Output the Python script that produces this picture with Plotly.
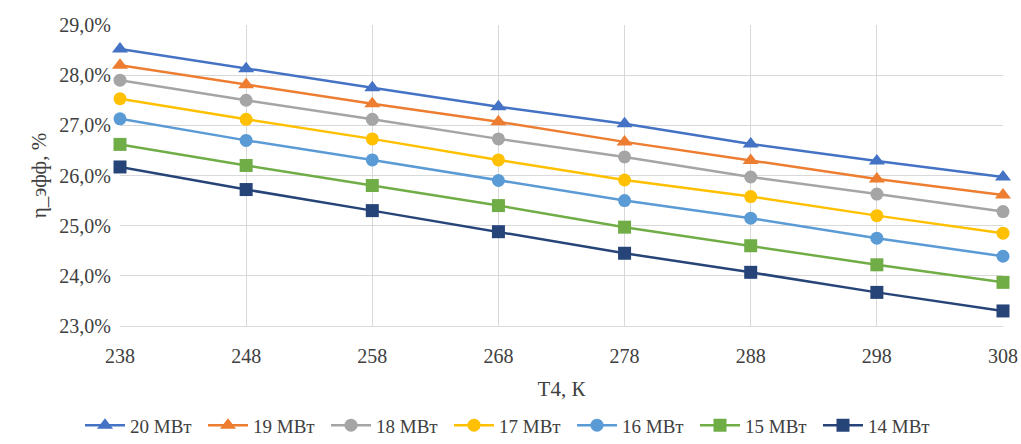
import plotly.graph_objects as go

# Temperature T4, K
t4 = [238, 248, 258, 268, 278, 288, 298, 308]

# Effective efficiency, %, per power level
eff_20 = [28.52, 28.13, 27.75, 27.37, 27.03, 26.63, 26.29, 25.97]
eff_19 = [28.20, 27.81, 27.43, 27.07, 26.67, 26.30, 25.93, 25.61]
eff_18 = [27.90, 27.50, 27.12, 26.73, 26.37, 25.97, 25.63, 25.28]
eff_17 = [27.53, 27.12, 26.73, 26.31, 25.91, 25.58, 25.20, 24.85]
eff_16 = [27.13, 26.70, 26.31, 25.90, 25.50, 25.15, 24.75, 24.39]
eff_15 = [26.62, 26.20, 25.80, 25.40, 24.97, 24.60, 24.22, 23.87]
eff_14 = [26.17, 25.72, 25.30, 24.88, 24.45, 24.07, 23.67, 23.30]

series_names = ["20 МВт", "19 МВт", "18 МВт", "17 МВт", "16 МВт", "15 МВт", "14 МВт"]
series_values = [eff_20, eff_19, eff_18, eff_17, eff_16, eff_15, eff_14]
colors = ["#4472C4", "#ED7D31", "#A5A5A5", "#FFC000", "#5B9BD5", "#70AD47", "#264478"]
symbols = ["triangle-up", "triangle-up", "circle", "circle", "circle", "square", "square"]
sizes = [14, 14, 13, 13, 13, 13, 13]

y_ticks = [23, 24, 25, 26, 27, 28, 29]
y_tick_text = ["23,0%", "24,0%", "25,0%", "26,0%", "27,0%", "28,0%", "29,0%"]

fig = go.Figure()
for name, vals, col, sym, sz in zip(series_names, series_values, colors, symbols, sizes):
    fig.add_trace(go.Scatter(
        x=t4, y=vals, name=name, mode="lines+markers",
        line=dict(color=col, width=2.5),
        marker=dict(symbol=sym, size=sz, color=col),
        cliponaxis=False,
    ))

font_family = "Liberation Serif"
text_color = "#404040"

fig.update_layout(
    width=1021, height=444,
    margin=dict(l=120, r=18, t=25, b=118, autoexpand=False),
    paper_bgcolor="white", plot_bgcolor="white",
    font=dict(family=font_family, size=20, color=text_color),
    showlegend=True,
    legend=dict(
        orientation="h",
        xref="container", x=0.5, xanchor="center",
        yref="paper", y=-0.33, yanchor="middle",
        font=dict(family=font_family, size=19, color=text_color),
        itemwidth=40, entrywidth=68, tracegroupgap=0,
    ),
    xaxis=dict(
        range=[238, 308], tickvals=t4, ticktext=[str(v) for v in t4],
        showgrid=True, gridcolor="#d9d9d9", gridwidth=1,
        showline=True, linecolor="#d9d9d9", linewidth=1,
        zeroline=False, ticks="", ticklabelstandoff=12, automargin=False,
        title=dict(text="T4, К", font=dict(family=font_family, size=21, color=text_color), standoff=15),
    ),
    yaxis=dict(
        range=[23, 29], tickvals=y_ticks, ticktext=y_tick_text,
        showgrid=True, gridcolor="#d9d9d9", gridwidth=1,
        showline=False, zeroline=False, ticks="", ticklabelstandoff=8, automargin=False,
        title=dict(text="η_эфф, %", font=dict(family=font_family, size=21, color=text_color), standoff=6),
    ),
)

fig.write_html("out.html")
